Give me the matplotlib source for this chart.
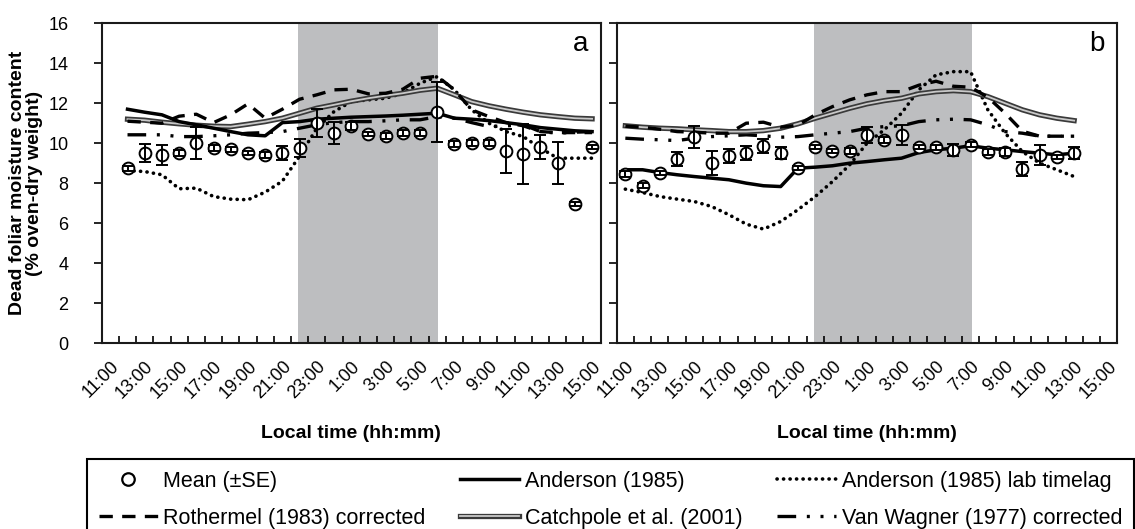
import matplotlib
matplotlib.use("Agg")
import matplotlib.pyplot as plt
import matplotlib.patheffects as pe
from matplotlib.lines import Line2D
import numpy as np

plt.rcParams['font.family'] = ['Liberation Sans', 'DejaVu Sans']

# ---------------- data ----------------
# x positions are clock hours counted from 11:00 on day 1 (11 = 11:00, 35 = 11:00 next day)
tick_hours = list(range(11, 40, 2))
tick_labels = ['11:00', '13:00', '15:00', '17:00', '19:00', '21:00', '23:00',
               '1:00', '3:00', '5:00', '7:00', '9:00', '11:00', '13:00', '15:00']

# panel a
hours_a = list(range(12, 40))
mean_a = [8.75, 9.53, 9.42, 9.53, 10.03, 9.75, 9.70, 9.53, 9.42, 9.53, 9.78, 11.00, 10.53, 10.87,
          10.45, 10.37, 10.50, 10.50, 11.58, 9.97, 10.03, 10.00, 9.63, 9.47, 9.83, 9.03, 6.97, 9.83]
se_a = [0.12, 0.45, 0.50, 0.15, 0.80, 0.15, 0.12, 0.10, 0.15, 0.35, 0.45, 0.70, 0.55, 0.20,
        0.10, 0.15, 0.15, 0.15, 1.50, 0.15, 0.15, 0.15, 1.10, 1.50, 0.60, 1.05, 0.10, 0.10]
anderson_a = [11.70, 11.55, 11.42, 11.08, 10.92, 10.75, 10.58, 10.42, 10.37, 11.03, 11.08, 11.20, 11.25, 11.30,
              11.33, 11.36, 11.40, 11.45, 11.50, 11.25, 11.20, 11.13, 11.03, 10.92, 10.78, 10.70, 10.62, 10.58]
labtl_a = [8.63, 8.58, 8.42, 7.72, 7.75, 7.33, 7.20, 7.17, 7.55, 8.10, 9.35, 10.75, 11.58, 12.08,
           12.17, 12.25, 12.50, 13.00, 13.33, 12.67, 11.67, 11.00, 10.58, 10.33, 9.75, 9.25, 9.25, 9.25]
rothermel_a = [11.10, 11.05, 11.00, 11.35, 11.45, 11.03, 11.42, 11.97, 11.25, 11.70, 12.20, 12.42, 12.67, 12.70,
               12.47, 12.50, 12.70, 13.25, 13.35, 12.67, 11.67, 11.33, 11.03, 10.87, 10.58, 10.53, 10.53, 10.53]
catchpole_a = [11.20, 11.15, 11.05, 10.97, 10.90, 10.85, 10.83, 10.95, 11.08, 11.25, 11.50, 11.75, 11.92, 12.10,
               12.25, 12.38, 12.50, 12.65, 12.75, 12.42, 12.08, 11.87, 11.70, 11.55, 11.42, 11.33, 11.25, 11.22]
vanwagner_a = [10.42, 10.42, 10.42, 10.33, 10.33, 10.37, 10.42, 10.50, 10.53, 10.58, 10.75, 10.92, 11.03, 11.08,
               11.08, 11.12, 11.17, 11.17, 11.33, 11.25, 11.03, 10.83, 10.87, 10.92, 10.58, 10.50, 10.55, 10.58]
night_a = (21.9, 30.05)

# panel b
hours_b = list(range(11, 38))
mean_b = [8.47, 7.87, 8.50, 9.20, 10.33, 9.00, 9.37, 9.53, 9.87, 9.53, 8.75, 9.83, 9.63, 9.63,
          10.42, 10.17, 10.42, 9.83, 9.80, 9.67, 9.92, 9.58, 9.58, 8.70, 9.42, 9.33, 9.53]
se_b = [0.15, 0.12, 0.10, 0.35, 0.55, 0.60, 0.35, 0.35, 0.35, 0.30, 0.10, 0.10, 0.10, 0.15,
        0.40, 0.15, 0.50, 0.10, 0.12, 0.30, 0.12, 0.15, 0.20, 0.35, 0.50, 0.10, 0.30]
anderson_b = [8.67, 8.67, 8.53, 8.42, 8.33, 8.25, 8.17, 8.00, 7.87, 7.83, 8.75, 8.80, 8.87, 9.00,
              9.08, 9.17, 9.25, 9.53, 9.67, 9.75, 9.87, 9.75, 9.67, 9.58, 9.50, 9.42, 9.50]
labtl_b = [7.70, 7.53, 7.33, 7.20, 7.08, 6.83, 6.42, 5.95, 5.70, 6.08, 6.67, 7.33, 8.08, 8.92,
           10.00, 10.67, 11.50, 12.67, 13.42, 13.58, 13.58, 11.67, 10.50, 9.58, 9.00, 8.67, 8.33]
rothermel_b = [10.85, 10.80, 10.70, 10.58, 10.55, 10.50, 10.50, 11.00, 11.05, 10.80, 10.90, 11.42, 11.83, 12.17,
               12.42, 12.58, 12.58, 12.90, 13.10, 12.85, 12.80, 12.30, 11.50, 10.60, 10.35, 10.35, 10.35]
catchpole_b = [10.87, 10.80, 10.75, 10.72, 10.67, 10.63, 10.58, 10.58, 10.63, 10.75, 10.97, 11.25, 11.50, 11.75,
               11.97, 12.13, 12.25, 12.47, 12.58, 12.63, 12.58, 12.33, 12.00, 11.67, 11.42, 11.25, 11.13]
vanwagner_b = [10.25, 10.20, 10.17, 10.13, 10.25, 10.33, 10.37, 10.42, 10.37, 10.30, 10.33, 10.42, 10.50, 10.58,
               10.75, 10.83, 10.87, 11.08, 11.17, 11.20, 11.17, 10.92, 10.58, 10.50, 10.35, 10.35, 10.35]
night_b = (21.93, 31.07)

legend_labels = ['Mean (\u00b1SE)', 'Anderson (1985)', 'Anderson (1985) lab timelag',
                 'Rothermel (1983) corrected', 'Catchpole et al. (2001)', 'Van Wagner (1977) corrected']

# ---------------- styles ----------------
sty_anderson = dict(color='black', lw=2.5, ls='-')
sty_labtl = dict(color='black', lw=2.6, ls=(0, (0.05, 1.75)), dash_capstyle='round')
sty_rothermel = dict(color='black', lw=2.4, ls=(0, (4.0, 2.8)), dash_capstyle='butt')
sty_catchpole = dict(color='#c9c9c9', lw=1.3, ls='-',
                     path_effects=[pe.Stroke(linewidth=3.8, foreground='#3a3a3a'), pe.Normal()])
sty_vanwagner = dict(color='black', lw=2.4, ls=(0, (5.6, 3.2, 0.9, 3.2, 0.9, 3.2)), dash_capstyle='butt')

W, H = 1135, 529
fig = plt.figure(figsize=(W / 100, H / 100), dpi=100)
axa = fig.add_axes([101.7 / W, 1 - 343 / H, 499 / W, 319.7 / H])
axb = fig.add_axes([616.7 / W, 1 - 343 / H, 500.6 / W, 319.7 / H])


def draw(ax, hrs, mean, se, anderson, labtl, rothermel, catchpole, vanwagner, night, letter, ylabels):
    ax.axvspan(night[0], night[1], color='#bdbec0', lw=0, zorder=0)
    ax.plot(hrs, labtl, zorder=2, **sty_labtl)
    ax.plot(hrs, vanwagner, zorder=2, **sty_vanwagner)
    ax.plot(hrs, catchpole, zorder=2, **sty_catchpole)
    ax.plot(hrs, rothermel, zorder=2, **sty_rothermel)
    ax.plot(hrs, anderson, zorder=3, **sty_anderson)
    ax.plot(hrs, mean, ls='none', marker='o', ms=8.5, mfc='white', mec='black', mew=1.4, zorder=4)
    ax.errorbar(hrs, mean, yerr=se, fmt='none', ecolor='black', elinewidth=1.4,
                capsize=4.5, capthick=1.4, zorder=5)
    ax.set_xlim(10.5, 39.5)
    ax.set_ylim(0, 16)
    ax.set_yticks(np.arange(0, 17, 2))
    ax.set_xticks(tick_hours)
    ax.set_xticklabels(tick_labels, rotation=45, ha='right', rotation_mode='anchor')
    ax.set_xticks(np.arange(11.5, 39.0, 1.0), minor=True)
    ax.tick_params(axis='x', which='major', length=0, pad=11, labelsize=13)
    ax.tick_params(axis='x', which='minor', direction='in', length=5, width=1.2)
    ax.tick_params(axis='y', direction='out', length=6, width=1.2, labelsize=13, pad=18)
    if not ylabels:
        ax.tick_params(axis='y', labelleft=False)
    for s in ax.spines.values():
        s.set_linewidth(1.5)
        s.set_color('#1a1a1a')
    ax.text(0.975, 0.975, letter, transform=ax.transAxes, ha='right', va='top', fontsize=20)
    ax.set_xlabel('Local time (hh:mm)', fontsize=14, fontweight='bold', labelpad=16)


draw(axa, hours_a, mean_a, se_a, anderson_a, labtl_a, rothermel_a, catchpole_a, vanwagner_a,
     night_a, 'a', True)
draw(axb, hours_b, mean_b, se_b, anderson_b, labtl_b, rothermel_b, catchpole_b, vanwagner_b,
     night_b, 'b', False)

axa.set_ylabel('Dead foliar moisture content\n(% oven-dry weight)', fontsize=14,
               fontweight='bold', linespacing=0.95)
axa.yaxis.set_label_coords(-0.118, 0.5)

# legend
h_mean = Line2D([], [], ls='none', marker='o', ms=9, mfc='white', mec='black', mew=1.6)
h_and = Line2D([], [], **sty_anderson)
h_lab = Line2D([], [], **sty_labtl)
h_rot = Line2D([], [], **sty_rothermel)
h_cat = Line2D([], [], **sty_catchpole)
h_van = Line2D([], [], **sty_vanwagner)
handles = [h_mean, h_rot, h_and, h_cat, h_lab, h_van]
labels = [legend_labels[0], legend_labels[3], legend_labels[1], legend_labels[4],
          legend_labels[2], legend_labels[5]]
leg = fig.legend(handles, labels, loc='upper left', ncol=3, mode='expand',
                 bbox_to_anchor=(86.7 / W, 0.0, (1134 - 86.7) / W, 1 - 459 / H),
                 bbox_transform=fig.transFigure, borderaxespad=0, fontsize=15.5,
                 handlelength=2.75, handletextpad=0.25, labelspacing=0.74, borderpad=0.55,
                 fancybox=False, edgecolor='black', framealpha=1)
leg.get_frame().set_linewidth(1.5)

fig.savefig('out.png', dpi=100)
